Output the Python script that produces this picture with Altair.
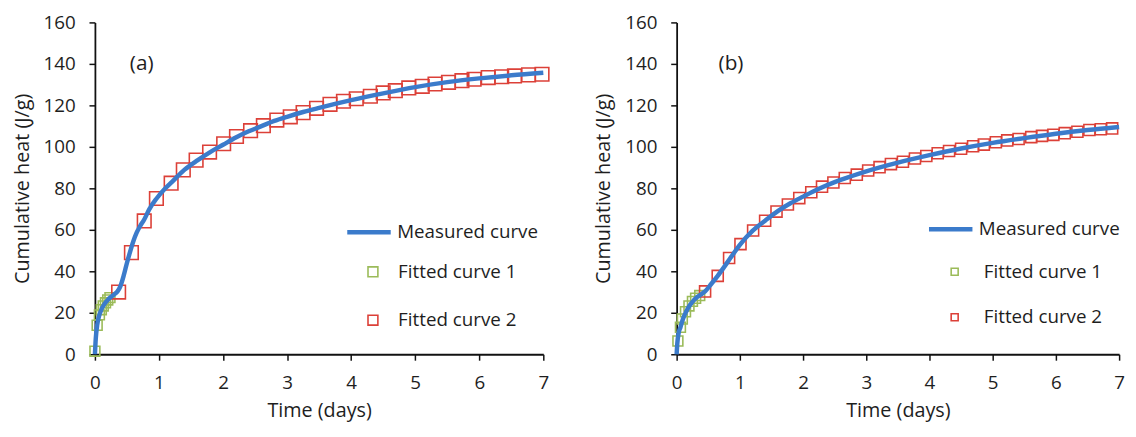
import altair as alt
import pandas as pd

# ---------------- data ----------------
# Panel (a)
a_meas_t = [0, 0.01, 0.02, 0.035, 0.07, 0.1, 0.15, 0.2, 0.25, 0.3, 0.35, 0.4, 0.45, 0.5,
            0.55, 0.6, 0.65, 0.7, 0.77, 0.85, 0.96, 1.1, 1.2, 1.4, 1.6, 1.8, 2.0, 2.2,
            2.4, 2.6, 2.8, 3.0, 3.25, 3.5, 3.75, 4.0, 4.5, 5.0, 5.5, 6.0, 6.5, 7.0]
a_meas_q = [0, 6, 10, 14, 19, 21.5, 24.3, 26.2, 27.6, 28.8, 30.2, 33, 38, 44,
            49.5, 54.5, 58.5, 61.5, 65, 70, 75, 80, 83, 89, 93.5, 97.5, 101, 104.5,
            107.5, 110, 112.5, 114.5, 116.8, 118.8, 120.7, 122.5, 125.8, 128.8, 131.2, 133, 134.5, 135.7]
a_fit1_t = [0, 0.035, 0.07, 0.1, 0.13, 0.165, 0.2, 0.235]
a_fit1_q = [1.5, 14, 19, 21.5, 23.3, 24.8, 26.2, 27.3]
a_fit2_t = [0.37, 0.57, 0.77, 0.96, 1.19, 1.38, 1.58, 1.79, 2.01, 2.21, 2.43, 2.63, 2.84,
            3.05, 3.25, 3.46, 3.67, 3.88, 4.08, 4.3, 4.5, 4.69, 4.9, 5.11, 5.31, 5.52,
            5.73, 5.92, 6.14, 6.35, 6.55, 6.77, 6.98]
a_fit2_q = [30.0, 49, 64.3, 75.1, 82.5, 88.9, 93.6, 97.5, 101.5, 105, 107.8, 110.2, 112.9,
            114.5, 116.5, 118.6, 120.5, 122, 123.2, 124.4, 126, 127.1, 128.4, 129.2, 130.3, 131.1,
            131.9, 132.6, 133.4, 133.8, 134.2, 134.7, 135]

# Panel (b)
b_meas_t = [0, 0.01, 0.03, 0.06, 0.1, 0.15, 0.2, 0.25, 0.3, 0.37, 0.45, 0.55, 0.65, 0.75,
            0.85, 1.0, 1.2, 1.4, 1.6, 1.8, 2.0, 2.25, 2.5, 2.75, 3.0, 3.5, 4.0, 4.5, 5.0,
            5.5, 6.0, 6.5, 7.0]
b_meas_q = [0, 5, 10, 13, 17, 20.5, 23.3, 25.3, 27, 28.5, 30.3, 34, 37.8, 42,
            46.4, 52.8, 59.5, 64.4, 69, 72.8, 76, 79.8, 83, 85.7, 88.2, 92.4, 96, 99.2, 101.9,
            104.2, 106.3, 108.1, 109.6]
b_fit1_t = [0.02, 0.06, 0.09, 0.14, 0.195, 0.25, 0.3, 0.365]
b_fit1_q = [6.4, 13, 17, 20.5, 23.3, 25.5, 27, 28.3]
b_fit2_t = [0.45, 0.65, 0.83, 1.01, 1.21, 1.40, 1.58, 1.76, 1.94, 2.13, 2.30, 2.48, 2.66,
            2.85, 3.03, 3.21, 3.39, 3.58, 3.77, 3.95, 4.13, 4.31, 4.50, 4.69, 4.86, 5.05,
            5.23, 5.41, 5.61, 5.78, 5.96, 6.14, 6.34, 6.53, 6.71, 6.89]
b_fit2_q = [30.3, 37.8, 46.4, 53.1, 59.7, 64.4, 68.8, 72.2, 75.3, 78.1, 80.8, 82.8, 85,
            86.6, 88.6, 90.2, 91.7, 92.8, 94.4, 95.6, 96.9, 98, 99.1, 100.3, 101.1, 102.2,
            103.1, 103.8, 104.7, 105.3, 105.8, 106.6, 107.3, 108.1, 108.5, 108.9]

x_ticks = [0, 0.5, 1, 1.5, 2, 2.5, 3, 3.5, 4, 4.5, 5, 5.5, 6, 6.5, 7]
y_ticks = [0, 20, 40, 60, 80, 100, 120, 140, 160]
series_names = ["Measured curve", "Fitted curve 1", "Fitted curve 2"]
panel_tags = ["(a)", "(b)"]

# ---------------- styling ----------------
FONT = "Open Sans"
TXT = "#1e1e1e"
BLUE = "#3b7bcb"
GREEN = "#9bbb59"
RED = "#dc4038"


def panel(meas_t, meas_q, f1_t, f1_q, f2_t, f2_q, tag, tag_pos, w, h,
          big, small, lx_line, ly_line, lx_pts, ly_pts, row_pad, leg_sq, line_len,
          pts_offset):
    meas = pd.DataFrame({"t": meas_t, "q": meas_q, "series": series_names[0]})
    fit1 = pd.DataFrame({"t": f1_t, "q": f1_q, "series": series_names[1]})
    fit2 = pd.DataFrame({"t": f2_t, "q": f2_q, "series": series_names[2]})

    x = alt.X("t:Q", scale=alt.Scale(domain=[0, 7], nice=False, zero=False),
              axis=alt.Axis(values=x_ticks, title="Time (days)", labelFlush=False,
                            labelExpr="datum.value % 1 === 0 ? format(datum.value, 'd') : ''"))
    y = alt.Y("q:Q", scale=alt.Scale(domain=[0, 160], nice=False),
              axis=alt.Axis(values=y_ticks, title="Cumulative heat (J/g)"))

    pts_scale = alt.Scale(domain=series_names[1:], range=[GREEN, RED])
    pts_legend = alt.Legend(orient="none", legendX=lx_pts, legendY=ly_pts, title=None,
                            symbolType="square", symbolSize=leg_sq, symbolStrokeWidth=1.6,
                            labelFont=FONT, labelFontSize=19, labelColor=TXT,
                            labelOffset=pts_offset, rowPadding=row_pad, padding=0)
    line_legend = alt.Legend(orient="none", legendX=lx_line, legendY=ly_line, title=None,
                             symbolType="stroke", symbolSize=line_len, symbolStrokeWidth=4.5,
                             labelFont=FONT, labelFontSize=19, labelColor=TXT,
                             labelOffset=4, padding=0)

    p1 = alt.Chart(fit1).mark_point(shape="square", filled=False, size=small,
                                    strokeWidth=1.6, opacity=1).encode(
        x=x, y=y, stroke=alt.Stroke("series:N", scale=pts_scale, legend=pts_legend))
    p2 = alt.Chart(fit2).mark_point(shape="square", filled=False, size=big,
                                    strokeWidth=1.6, opacity=1).encode(
        x=x, y=y, stroke=alt.Stroke("series:N", scale=pts_scale, legend=pts_legend))
    ln = alt.Chart(meas).mark_line(strokeWidth=4.5, interpolate="monotone").encode(
        x=x, y=y,
        color=alt.Color("series:N", scale=alt.Scale(domain=series_names[:1], range=[BLUE]),
                        legend=line_legend))
    tag_df = pd.DataFrame({"label": [tag]})
    tx = alt.Chart(tag_df).mark_text(font=FONT, fontSize=21, color=TXT).encode(
        x=alt.datum(tag_pos[0]), y=alt.datum(tag_pos[1]), text="label:N")
    return alt.layer(p1, p2, ln, tx).properties(width=w, height=h)


left = panel(a_meas_t, a_meas_q, a_fit1_t, a_fit1_q, a_fit2_t, a_fit2_q,
             panel_tags[0], (0.73, 140), 454, 336, 190, 100,
             253, 188, 272, 243, 29, 100, 1936, 16)
right = panel(b_meas_t, b_meas_q, b_fit1_t, b_fit1_q, b_fit2_t, b_fit2_q,
              panel_tags[1], (0.86, 140), 448, 336, 125, 100,
              253, 185, 272, 243, 26, 50, 1936, 20)

chart = alt.hconcat(left, right, spacing=42).resolve_scale(
    color="independent", stroke="independent"
).resolve_legend(color="independent", stroke="independent").properties(
    padding={"left": 4, "top": 3, "right": 0, "bottom": 0}
).configure_view(stroke=None).configure_axis(
    grid=False, domainColor="#111", domainWidth=1.8, tickColor="#111", tickWidth=1.5,
    tickSize=6, labelFont=FONT, labelFontSize=19, labelColor=TXT,
    titleFont=FONT, titleFontSize=20, titleFontWeight="normal", titleColor=TXT
).configure_axisX(labelPadding=14, titlePadding=8).configure_axisY(
    labelPadding=14, titlePadding=11)

chart.save("out.html", embed_options={"renderer": "svg", "actions": False})
